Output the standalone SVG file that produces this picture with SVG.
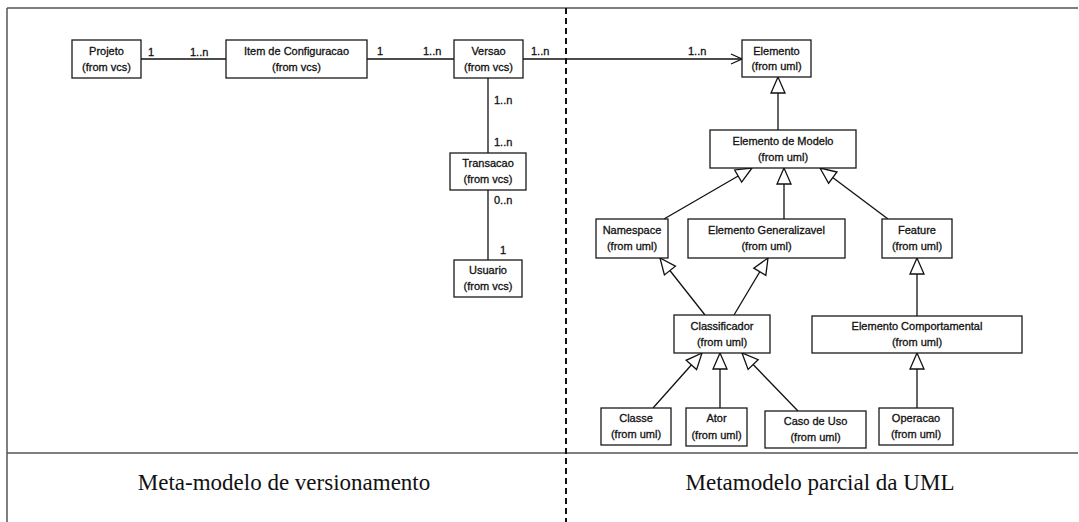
<svg xmlns="http://www.w3.org/2000/svg" width="1079" height="522" viewBox="0 0 1079 522">
  <defs>
    <style>
      .box { fill: #fff; stroke: #1a1a1a; stroke-width: 1.3; }
      .lbl { font-family: "Liberation Sans", Arial, sans-serif; font-size: 11px; fill: #111; stroke: #111; stroke-width: 0.3; text-anchor: middle; }
      .mult { font-family: "Liberation Sans", Arial, sans-serif; font-size: 11px; fill: #111; stroke: #111; stroke-width: 0.3; }
      .cap { font-family: "Liberation Serif", "Times New Roman", serif; font-size: 23px; fill: #111; text-anchor: middle; }
      .edge { stroke: #111; stroke-width: 1.3; fill: none; }
      .frame { stroke: #555; stroke-width: 1.5; fill: none; }
    </style>
    <!-- hollow generalization triangle -->
    <marker id="gen" markerUnits="userSpaceOnUse" markerWidth="20" markerHeight="20" viewBox="-18 -9 20 18" refX="0" refY="0" orient="auto">
      <path d="M0,0 L-16,-7 L-16,7 Z" fill="#fff" stroke="#111" stroke-width="1.3"/>
    </marker>
    <!-- open navigability arrow -->
    <marker id="nav" markerUnits="userSpaceOnUse" markerWidth="16" markerHeight="14" viewBox="-13 -7 15 14" refX="0" refY="0" orient="auto">
      <path d="M-11,-5 L0,0 L-11,5" fill="none" stroke="#111" stroke-width="1.3"/>
    </marker>
  </defs>

  <rect width="1079" height="522" fill="#fff"/>

  <!-- frame and section dividers -->
  <g id="frame">
    <line class="frame" x1="7" y1="8" x2="1078" y2="8"/>
    <line class="frame" x1="7" y1="8" x2="7" y2="522"/>
    <line class="frame" x1="7" y1="453" x2="1078" y2="453" stroke="#888"/>
    <line x1="566" y1="8" x2="566" y2="522" stroke="#111" stroke-width="2" stroke-dasharray="6,4"/>
  </g>

  <!-- connectors -->
  <g id="connectors">
    <line class="edge" x1="141" y1="59" x2="226" y2="59"/>
    <line class="edge" x1="367" y1="59" x2="454" y2="59"/>
    <line class="edge" x1="523" y1="59" x2="742" y2="59" marker-end="url(#nav)"/>
    <line class="edge" x1="488" y1="78" x2="488" y2="153"/>
    <line class="edge" x1="488" y1="190" x2="488" y2="260"/>

    <line class="edge" x1="778" y1="130" x2="778" y2="77" marker-end="url(#gen)"/>
    <line class="edge" x1="664" y1="219" x2="752" y2="168" marker-end="url(#gen)"/>
    <line class="edge" x1="784" y1="219" x2="784" y2="168" marker-end="url(#gen)"/>
    <line class="edge" x1="888" y1="219" x2="820" y2="168" marker-end="url(#gen)"/>
    <line class="edge" x1="705" y1="315" x2="660" y2="258" marker-end="url(#gen)"/>
    <line class="edge" x1="734" y1="315" x2="768" y2="258" marker-end="url(#gen)"/>
    <line class="edge" x1="917" y1="316" x2="917" y2="258" marker-end="url(#gen)"/>
    <line class="edge" x1="653" y1="408" x2="702" y2="353" marker-end="url(#gen)"/>
    <line class="edge" x1="720" y1="408" x2="720" y2="353" marker-end="url(#gen)"/>
    <line class="edge" x1="798" y1="411" x2="742" y2="353" marker-end="url(#gen)"/>
    <line class="edge" x1="917" y1="408" x2="917" y2="353" marker-end="url(#gen)"/>

    <!-- multiplicities -->
    <text class="mult" x="148" y="56">1</text>
    <text class="mult" x="190" y="56">1..n</text>
    <text class="mult" x="377" y="55">1</text>
    <text class="mult" x="423" y="55">1..n</text>
    <text class="mult" x="531" y="55">1..n</text>
    <text class="mult" x="688" y="55">1..n</text>
    <text class="mult" x="494" y="104">1..n</text>
    <text class="mult" x="494" y="146">1..n</text>
    <text class="mult" x="494" y="204">0..n</text>
    <text class="mult" x="500" y="254">1</text>
  </g>

  <!-- versioning metamodel -->
  <g id="projeto">
    <rect class="box" x="72" y="40" width="69" height="38"/>
    <text class="lbl" x="106.5" y="55">Projeto</text>
    <text class="lbl" x="106.5" y="71">(from vcs)</text>
  </g>
  <g id="item-configuracao">
    <rect class="box" x="226" y="40" width="141" height="38"/>
    <text class="lbl" x="296.5" y="55">Item de Configuracao</text>
    <text class="lbl" x="296.5" y="71">(from vcs)</text>
  </g>
  <g id="versao">
    <rect class="box" x="454" y="40" width="69" height="38"/>
    <text class="lbl" x="488.5" y="55">Versao</text>
    <text class="lbl" x="488.5" y="71">(from vcs)</text>
  </g>
  <g id="transacao">
    <rect class="box" x="450" y="153" width="76" height="37"/>
    <text class="lbl" x="488" y="167">Transacao</text>
    <text class="lbl" x="488" y="183">(from vcs)</text>
  </g>
  <g id="usuario">
    <rect class="box" x="454" y="260" width="68" height="37"/>
    <text class="lbl" x="488" y="274">Usuario</text>
    <text class="lbl" x="488" y="290">(from vcs)</text>
  </g>

  <!-- partial UML metamodel -->
  <g id="elemento">
    <rect class="box" x="742" y="40" width="69" height="37"/>
    <text class="lbl" x="776.5" y="55">Elemento</text>
    <text class="lbl" x="776.5" y="70">(from uml)</text>
  </g>
  <g id="elemento-modelo">
    <rect class="box" x="710" y="130" width="146" height="38"/>
    <text class="lbl" x="783" y="145">Elemento de Modelo</text>
    <text class="lbl" x="783" y="161">(from uml)</text>
  </g>
  <g id="namespace">
    <rect class="box" x="596" y="219" width="72" height="39"/>
    <text class="lbl" x="632" y="234">Namespace</text>
    <text class="lbl" x="632" y="250">(from uml)</text>
  </g>
  <g id="elemento-generalizavel">
    <rect class="box" x="688" y="219" width="157" height="39"/>
    <text class="lbl" x="766.5" y="234">Elemento Generalizavel</text>
    <text class="lbl" x="766.5" y="250">(from uml)</text>
  </g>
  <g id="feature">
    <rect class="box" x="882" y="219" width="70" height="39"/>
    <text class="lbl" x="917" y="234">Feature</text>
    <text class="lbl" x="917" y="250">(from uml)</text>
  </g>
  <g id="classificador">
    <rect class="box" x="674" y="315" width="96" height="38"/>
    <text class="lbl" x="722" y="330">Classificador</text>
    <text class="lbl" x="722" y="346">(from uml)</text>
  </g>
  <g id="elemento-comportamental">
    <rect class="box" x="812" y="316" width="210" height="37"/>
    <text class="lbl" x="917" y="330">Elemento Comportamental</text>
    <text class="lbl" x="917" y="346">(from uml)</text>
  </g>
  <g id="classe">
    <rect class="box" x="601" y="408" width="70" height="37"/>
    <text class="lbl" x="636" y="422">Classe</text>
    <text class="lbl" x="636" y="438">(from uml)</text>
  </g>
  <g id="ator">
    <rect class="box" x="686" y="408" width="61" height="38"/>
    <text class="lbl" x="716.5" y="422">Ator</text>
    <text class="lbl" x="716.5" y="439">(from uml)</text>
  </g>
  <g id="caso-de-uso">
    <rect class="box" x="765" y="411" width="101" height="37"/>
    <text class="lbl" x="815.5" y="425">Caso de Uso</text>
    <text class="lbl" x="815.5" y="441">(from uml)</text>
  </g>
  <g id="operacao">
    <rect class="box" x="879" y="408" width="74" height="37"/>
    <text class="lbl" x="916" y="422">Operacao</text>
    <text class="lbl" x="916" y="438">(from uml)</text>
  </g>

  <!-- captions -->
  <g id="captions">
    <text class="cap" x="284" y="490">Meta-modelo de versionamento</text>
    <text class="cap" x="820" y="490">Metamodelo parcial da UML</text>
  </g>
</svg>
